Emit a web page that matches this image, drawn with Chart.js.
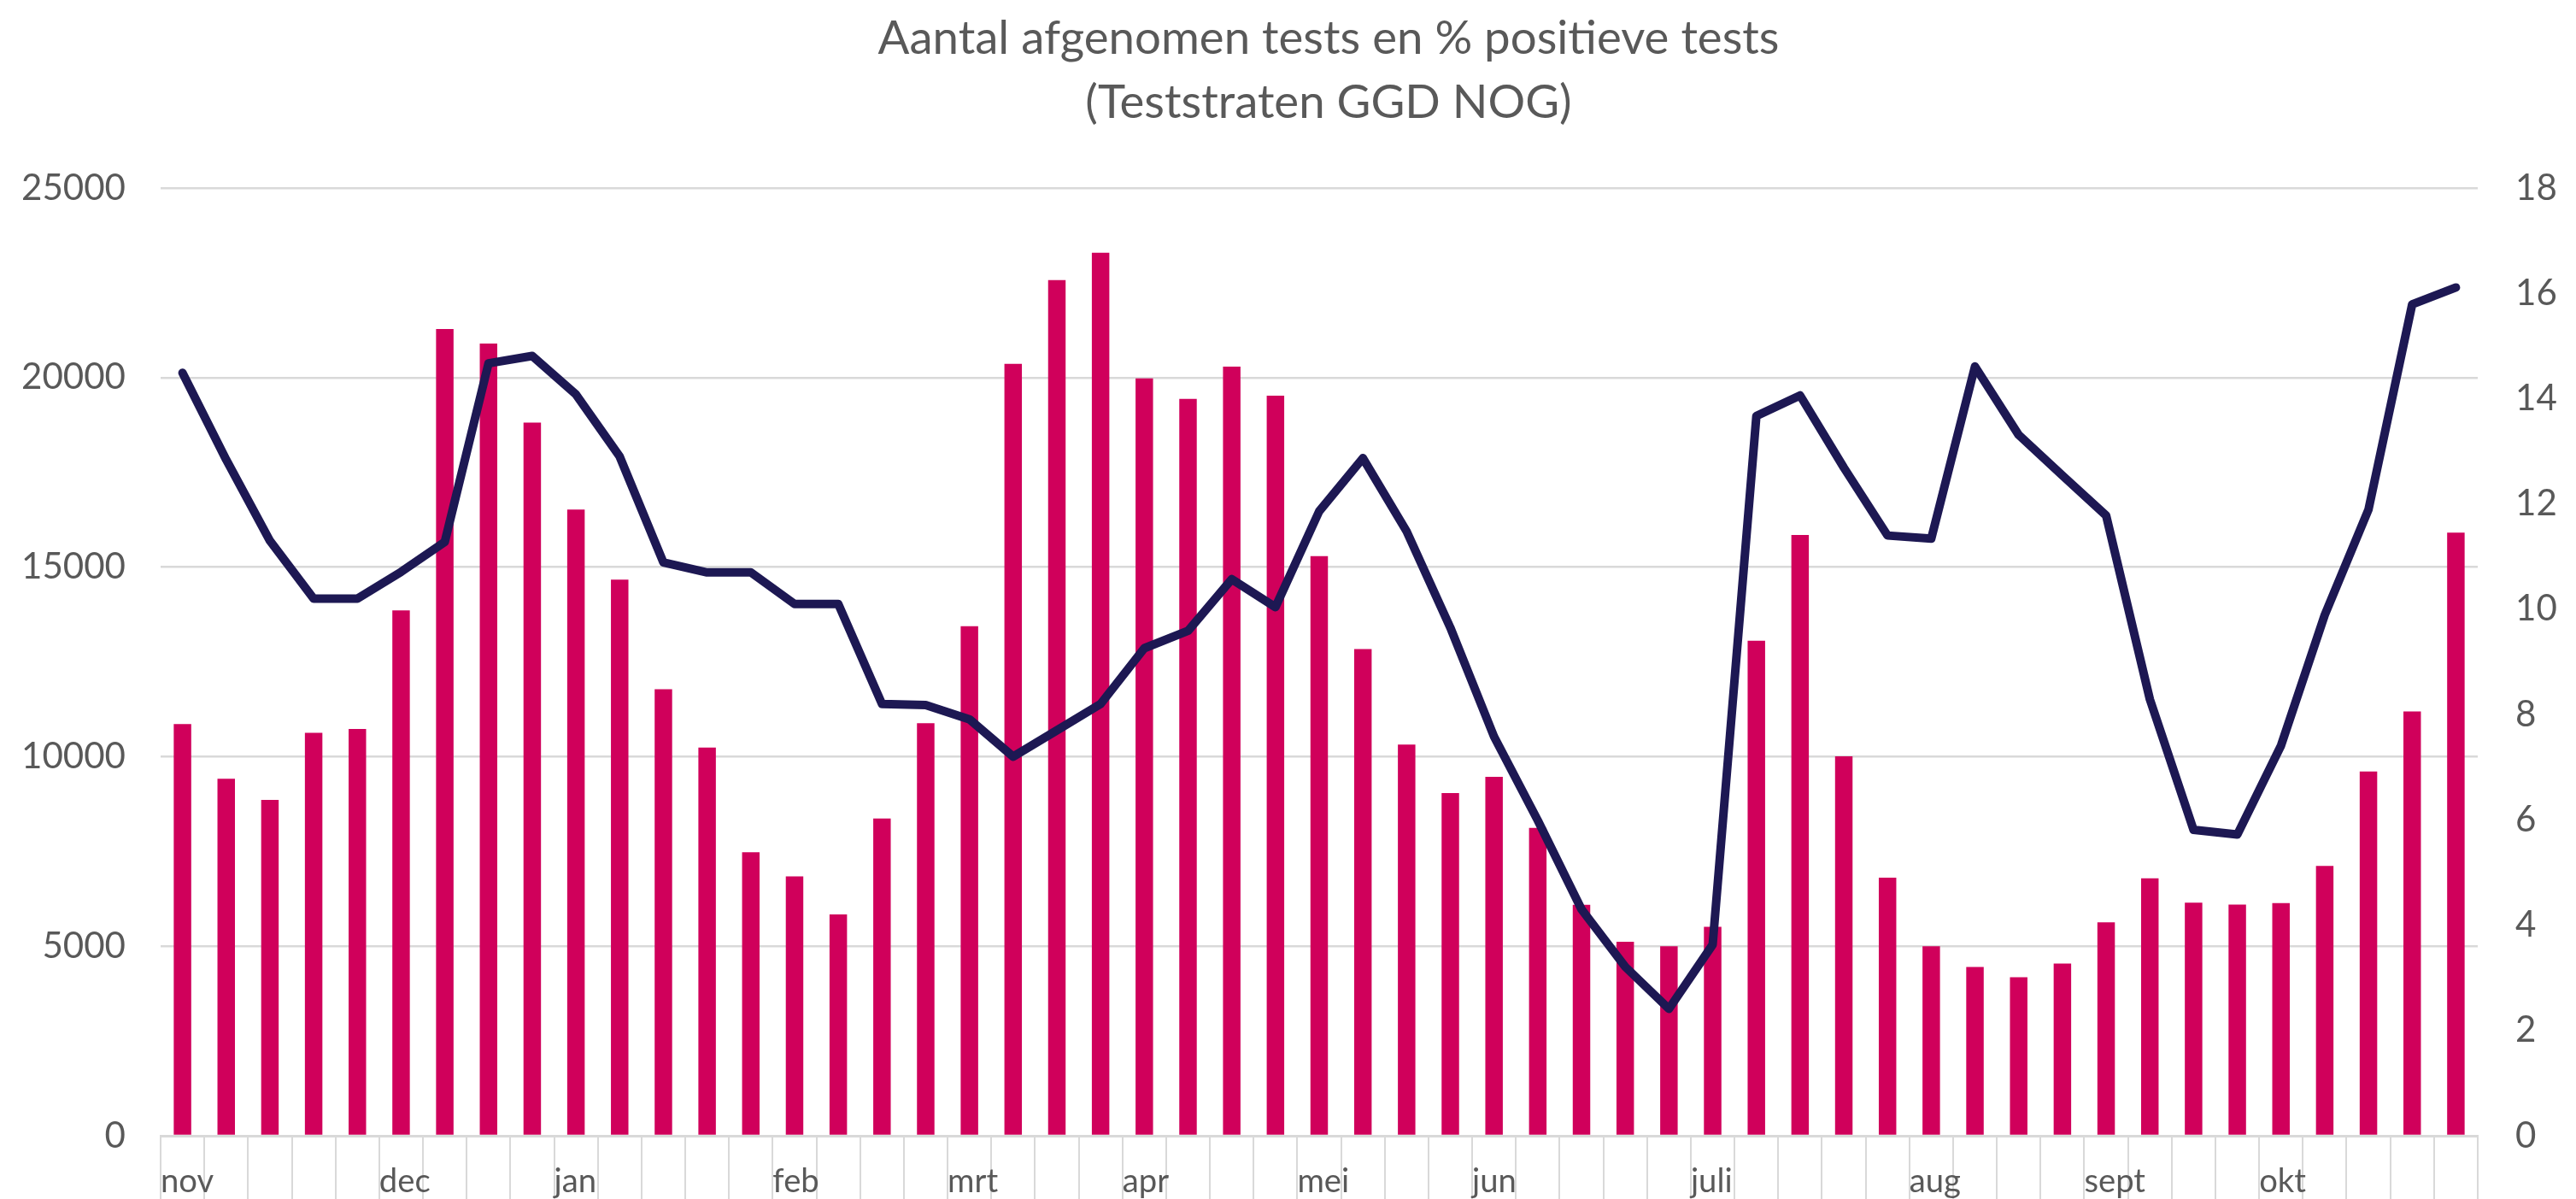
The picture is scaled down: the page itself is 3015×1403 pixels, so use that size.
<!DOCTYPE html>
<html>
<head>
<meta charset="utf-8">
<script src="https://cdn.jsdelivr.net/npm/chart.js@4.4.1/dist/chart.umd.min.js"></script>
<style>
html,body{margin:0;padding:0;background:#ffffff;}
#wrap{width:3015px;height:1403px;position:relative;}
</style>
</head>
<body>
<div id="wrap"><canvas id="c" width="3015" height="1403"></canvas></div>
<script>
// ---- DATA ----
const weekLabels = [
  'nov','','','','',
  'dec','','','',
  'jan','','','','',
  'feb','','','',
  'mrt','','','',
  'apr','','','',
  'mei','','','',
  'jun','','','','',
  'juli','','','','',
  'aug','','','',
  'sept','','','',
  'okt','','','',''
];
const testsTaken = [
  10860, 9420, 8860, 10630, 10730, 13860, 21280, 20900, 18810,
  16520, 14670, 11780, 10240, 7480, 6840, 5840, 8370, 10880,
  13440, 20360, 22570, 23290, 19980, 19440, 20290, 19520,
  15290, 12840, 10320, 9040, 9470, 8120, 6090, 5120, 5000,
  5510, 13060, 15850, 10010, 6810, 5000, 4450, 4180, 4540,
  5630, 6790, 6150, 6100, 6140, 7120, 9610, 11190, 15910
];
const positivePct = [
  14.49, 12.84, 11.30, 10.20, 10.20, 10.71, 11.28, 14.67, 14.81,
  14.08, 12.90, 10.89, 10.70, 10.70, 10.10, 10.10, 8.20, 8.18,
  7.91, 7.20, 7.70, 8.20, 9.26, 9.59, 10.57, 10.04,
  11.86, 12.87, 11.48, 9.65, 7.58, 5.99, 4.30, 3.21, 2.41,
  3.63, 13.67, 14.06, 12.69, 11.40, 11.34, 14.61, 13.31, 12.54,
  11.78, 8.29, 5.81, 5.72, 7.41, 9.89, 11.89, 15.79, 16.11
];
const leftTicksMax = 25000, leftStep = 5000;
const rightTicksMax = 18, rightStep = 2;
const titleLines = ['Aantal afgenomen tests en % positieve tests', '(Teststraten GGD NOG)'];

// ---- STYLE ----
const PINK = '#d0005b';
const NAVY = '#1d1853';
const TEXT = '#595959';
const GRID = '#d9d9d9';
const FAMILY = 'Lato';

function fitFont(text, target) {
  const m = document.createElement('canvas').getContext('2d');
  m.font = '100px ' + FAMILY;
  return 100 * target / m.measureText(text).width;
}
const titleSize = fitFont(titleLines[0], 1055);
const ySize = fitFont('25000', 113) * 1.08;
const xSize = (fitFont('nov', 57) + fitFont('sept', 67)) / 2 * 1.08;

const TITLE_LH = 75;
const titleTop = 63 - 0.3225 * titleSize - TITLE_LH / 2;
const titleBottom = 220 - titleTop - 2 * TITLE_LH;
const TITLE_SHIFT = 11;

const X_AXIS_H = 74;
const xLH = xSize * 1.2;
const xPad = (1395 - 1329) - X_AXIS_H - xLH / 2 - 0.3225 * xSize;

const shiftTitle = {
  id: 'shiftTitle',
  afterLayout(chart) {
    const t = chart.titleBlock;
    if (t) { t.left += TITLE_SHIFT; t.right += TITLE_SHIFT; }
  }
};

const plain = v => String(v);

const ctx = document.getElementById('c').getContext('2d');
new Chart(ctx, {
  data: {
    labels: weekLabels,
    datasets: [
      {
        type: 'line',
        label: '% positieve tests',
        data: positivePct,
        yAxisID: 'y1',
        borderColor: NAVY,
        backgroundColor: NAVY,
        borderWidth: 10,
        pointRadius: 0,
        tension: 0,
        borderCapStyle: 'round',
        borderJoinStyle: 'round',
        order: 0
      },
      {
        type: 'bar',
        label: 'Aantal afgenomen tests',
        data: testsTaken,
        yAxisID: 'y',
        backgroundColor: PINK,
        categoryPercentage: 1,
        barPercentage: 0.4,
        order: 1
      }
    ]
  },
  plugins: [shiftTitle],
  options: {
    responsive: false,
    animation: false,
    devicePixelRatio: 1,
    layout: { padding: { left: 0, right: 0, top: 0, bottom: 0 } },
    plugins: {
      legend: { display: false },
      tooltip: { enabled: false },
      title: {
        display: true,
        fullSize: false,
        text: titleLines,
        color: TEXT,
        font: { family: FAMILY, size: titleSize, weight: 'normal', lineHeight: TITLE_LH / titleSize },
        padding: { top: titleTop, bottom: titleBottom }
      }
    },
    scales: {
      x: {
        type: 'category',
        offset: true,
        grid: { offset: true, drawOnChartArea: false, drawTicks: true, tickLength: X_AXIS_H, color: GRID, lineWidth: 2 },
        border: { display: true, color: GRID, width: 3 },
        ticks: {
          autoSkip: false, maxRotation: 0, minRotation: 0,
          align: 'start', labelOffset: -25.6, padding: xPad,
          color: TEXT, font: { family: FAMILY, size: xSize }
        },
        afterFit: s => { s.height = X_AXIS_H; }
      },
      y: {
        position: 'left',
        min: 0, max: leftTicksMax,
        ticks: { stepSize: leftStep, padding: 41, color: TEXT, font: { family: FAMILY, size: ySize }, callback: plain },
        grid: { color: GRID, lineWidth: 2.5, drawTicks: false },
        border: { display: false },
        afterFit: s => { s.width = 188; }
      },
      y1: {
        position: 'right',
        min: 0, max: rightTicksMax,
        ticks: { stepSize: rightStep, padding: 44, color: TEXT, font: { family: FAMILY, size: ySize }, callback: plain },
        grid: { display: false, drawTicks: false },
        border: { display: false },
        afterFit: s => { s.width = 115; }
      }
    }
  }
});
</script>
</body>
</html>
